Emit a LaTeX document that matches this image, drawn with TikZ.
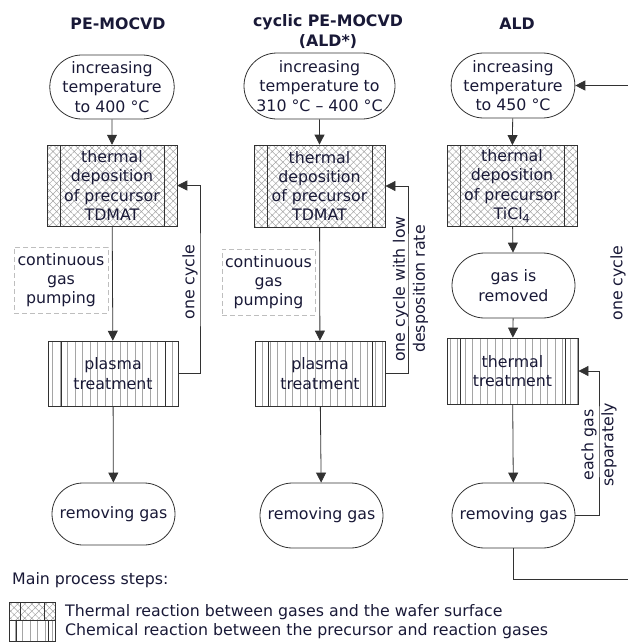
\documentclass[tikz,border=0pt]{standalone}
\usepackage{fontspec}
\setmainfont{DejaVu Sans}
\usetikzlibrary{shapes.misc,arrows.meta,patterns.meta}
\definecolor{txt}{RGB}{25,25,55}
\definecolor{ln}{RGB}{50,50,50}
\definecolor{hat}{RGB}{165,165,165}
\definecolor{dsh}{RGB}{190,190,190}
\tikzset{
  every node/.style={text=txt, font=\fontsize{15.8pt}{19.3pt}\selectfont, align=center, inner sep=0pt},
  ttl/.style={font=\fontsize{15.8pt}{20pt}\selectfont\bfseries},
  stad/.style={rounded rectangle, draw=ln, line width=0.8pt, minimum width=123pt, minimum height=65pt},
  innerlines/.style={path picture={\draw[ln,line width=0.8pt]
      ([xshift=#1]path picture bounding box.north west) -- ([xshift=#1]path picture bounding box.south west)
      ([xshift=-#1]path picture bounding box.north east) -- ([xshift=-#1]path picture bounding box.south east);}},
  thermbox/.style={rectangle, draw=ln, line width=0.8pt, minimum width=130pt, minimum height=81pt,
      pattern={Hatch[angle=45,distance=5pt,line width=0.5pt]}, pattern color=hat, innerlines=13pt},
  chembox/.style={rectangle, draw=ln, line width=0.8pt, minimum width=130pt, minimum height=65pt,
      pattern={Lines[angle=90,distance=7.5pt,line width=0.5pt]}, pattern color=hat, innerlines=13pt},
  dashbox/.style={rectangle, draw=dsh, line width=0.8pt, dash pattern=on 5pt off 3pt, minimum width=94pt, minimum height=66pt},
  arr/.style={draw=ln, line width=0.8pt, -{Triangle[width=10pt,length=10pt]}},
  rot/.style={rotate=90, font=\fontsize{15.8pt}{20pt}\selectfont},
}
\begin{document}
\begin{tikzpicture}[x=1pt,y=-1pt]
\useasboundingbox (0,0) rectangle (627,643);

% titles
\node[ttl] (t1) at (118,24) {PE-MOCVD};
\node[ttl] (t2) at (328,32) {cyclic PE-MOCVD\\(ALD*)};
\node[ttl] (t3) at (517,24) {ALD};

% column 1
\node[stad, minimum width=113pt, minimum height=64pt] (s1) at (112,87) {increasing\\temperature\\to 400 °C};
\node[thermbox] (b1) at (112,185.5) {thermal\\deposition\\of precursor\\TDMAT};
\node[dashbox] (d1) at (61,280) {continuous\\gas\\pumping};
\node[chembox] (p1) at (113,373.5) {plasma\\treatment};
\node[stad, minimum height=62pt] (r1) at (113.5,514) {removing gas};
\coordinate (lp1) at (200,280);
\node[rot] (l1) at (190,282) {one cycle};

% column 2
\node[stad, minimum width=151pt, minimum height=66pt] (s2) at (319.5,86) {increasing\\temperature to\\310 °C – 400 °C};
\node[thermbox, minimum width=131pt, minimum height=82pt] (b2) at (319.5,186) {thermal\\deposition\\of precursor\\TDMAT};
\node[dashbox, minimum width=93pt] (d2) at (268.5,282) {continuous\\gas\\pumping};
\node[chembox] (p2) at (320,373.5) {plasma\\treatment};
\node[stad] (r2) at (321.5,515.5) {removing gas};
\coordinate (lp2) at (408,280);
\node[rot] (l2) at (410.5,289) {one cycle with low\\desposition rate};

% column 3
\node[stad, minimum width=122pt] (s3) at (513,85.5) {increasing\\temperature\\to 450 °C};
\node[thermbox] (b3) at (512,186) {thermal\\deposition\\of precursor\\TiCl\textsubscript{4}};
\node[stad] (g3) at (513.5,285.5) {gas is\\removed};
\node[chembox, minimum width=131pt, minimum height=66pt] (t3) at (512.5,371) {thermal\\treatment};
\node[stad] (r3) at (513.5,515.5) {removing gas};
\coordinate (lp3) at (599,440);
\coordinate (big) at (640,579);
\node[rot] (l3) at (618,283) {one cycle};
\node[rot] (l4) at (599,445) {each gas\\separately};

% connectors
\draw[arr] (s1) -- (b1);
\draw[arr] (b1) -- (p1);
\draw[arr] (p1) -- (r1);
\draw[arr] (p1.east) -| (lp1) |- (b1.east);

\draw[arr] (s2) -- (b2);
\draw[arr] (b2) -- (p2);
\draw[arr] (p2) -- (r2);
\draw[arr] (p2.east) -| (lp2) |- (b2.east);

\draw[arr] (s3) -- (b3);
\draw[arr] (b3) -- (g3);
\draw[arr] (g3) -- (t3);
\draw[arr] (t3) -- (r3);
\draw[arr] (r3.east) -| (lp3) |- (t3.east);
\draw[arr] (r3.south) |- (big) |- (s3.east);

% legend
\node[anchor=west] (mp) at (12,580) {Main process steps:};
\node[thermbox, minimum width=46pt, minimum height=18pt, innerlines=11pt] (lg1) at (32,611) {};
\node[chembox, minimum width=46pt, minimum height=21pt, innerlines=7pt] (lg2) at (32,630.5) {};
\node[anchor=west] (lt1) at (65,612) {Thermal reaction between gases and the wafer surface};
\node[anchor=west] (lt2) at (65,631) {Chemical reaction between the precursor and reaction gases};
\end{tikzpicture}
\end{document}
